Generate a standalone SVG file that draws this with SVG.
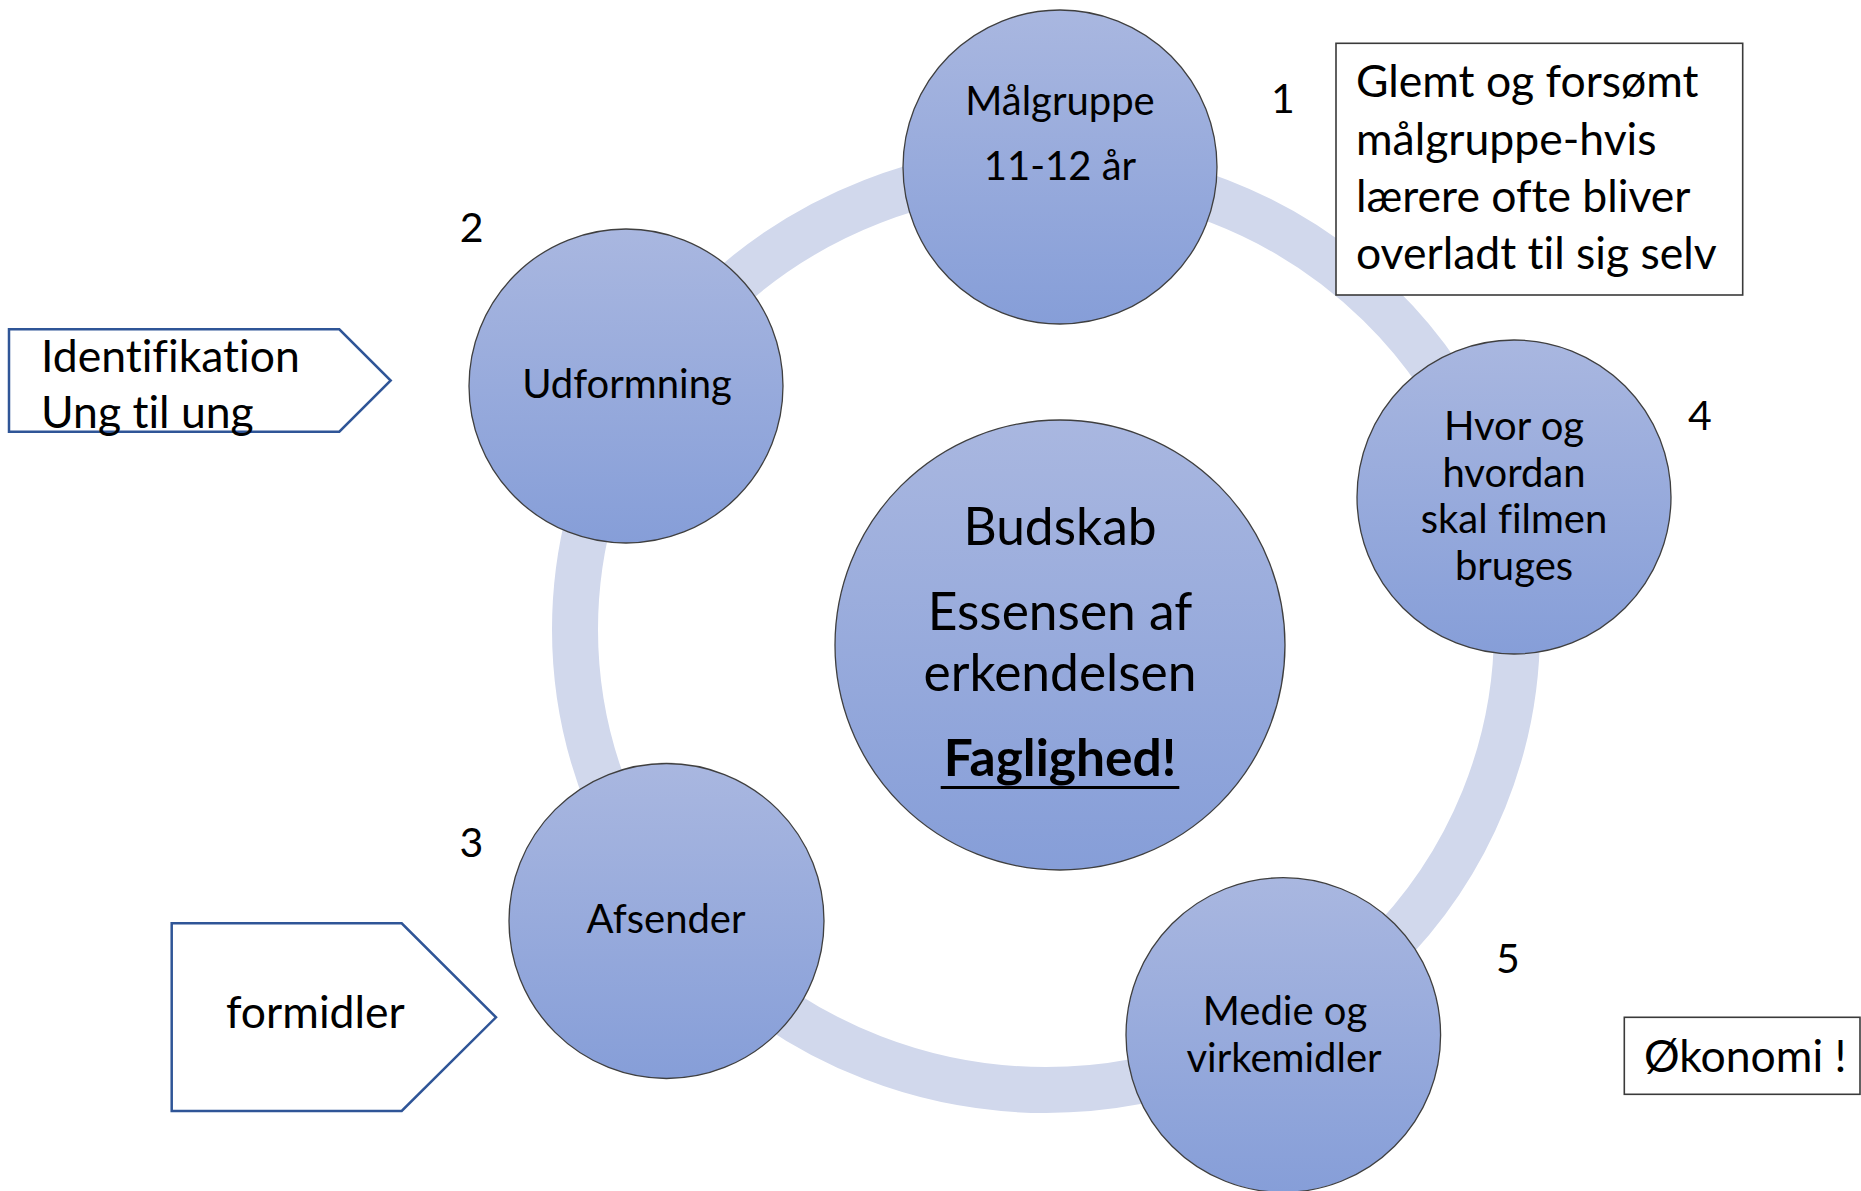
<svg xmlns="http://www.w3.org/2000/svg" width="1861" height="1191" viewBox="0 0 1861 1191">
<defs>
<linearGradient id="nodeGrad" x1="0" y1="0" x2="0" y2="1">
<stop offset="0" stop-color="#A9B7E0"/>
<stop offset="1" stop-color="#869ED8"/>
</linearGradient>
<style>
.node{fill:url(#nodeGrad);stroke:#3F3F3F;stroke-width:1.3}
.t{font-family:Lato,"Liberation Sans",sans-serif;fill:#000;font-variant-ligatures:none;font-feature-settings:"liga" 0,"clig" 0}
.c{text-anchor:middle}
.n{font-size:40px}
.b{font-size:44.5px}
.big{font-size:51.5px}
.num{font-size:41px;text-anchor:middle}
.box{fill:#fff;stroke:#3A3A3A;stroke-width:1.6}
.arrowbox{fill:#fff;stroke:#2F5597;stroke-width:2.5}
.ring{fill:none;stroke:#D1D8EC;stroke-width:46}
</style>
</defs>
<rect width="1861" height="1191" fill="#fff"/>
<g id="connectors">
<ellipse class="ring" cx="1046" cy="629.5" rx="471" ry="460.5"/>
</g>
<g id="node-budskab">
<circle class="node" cx="1060" cy="645" r="225"/>
<text class="t c big" x="1060" y="545">Budskab</text>
<text class="t c big" x="1060" y="630">Essensen af</text>
<text class="t c big" x="1060" y="691">erkendelsen</text>
<text class="t c big" x="1060" y="776" font-weight="bold" font-size="52.5">Faglighed!</text>
<line x1="940.7" y1="787.5" x2="1179.3" y2="787.5" stroke="#000" stroke-width="3.2"/>
</g>
<g id="node-malgruppe">
<circle class="node" cx="1060" cy="167" r="157"/>
<text class="t c n" x="1060" y="115">Målgruppe</text>
<text class="t c n" x="1060" y="180">11-12 år</text>
</g>
<g id="node-udformning">
<circle class="node" cx="626" cy="386" r="157"/>
<text class="t c n" x="627" y="398.3">Udformning</text>
</g>
<g id="node-afsender">
<circle class="node" cx="666.5" cy="921" r="157.5"/>
<text class="t c n" x="666" y="932.7">Afsender</text>
</g>
<g id="node-medie">
<circle class="node" cx="1283.3" cy="1035" r="157.3"/>
<text class="t c n" x="1285" y="1025">Medie og</text>
<text class="t c n" x="1284" y="1071.7">virkemidler</text>
</g>
<g id="node-hvor">
<circle class="node" cx="1514" cy="497" r="157"/>
<text class="t c n" x="1514" y="440">Hvor og</text>
<text class="t c n" x="1514" y="486.7">hvordan</text>
<text class="t c n" x="1514" y="533.3">skal filmen</text>
<text class="t c n" x="1514" y="580">bruges</text>
</g>
<g id="numbers">
<text class="t num" x="1283" y="113">1</text>
<text class="t num" x="471.7" y="241.7">2</text>
<text class="t num" x="471.5" y="857">3</text>
<text class="t num" x="1700" y="430">4</text>
<text class="t num" x="1508" y="973">5</text>
</g>
<g id="note-glemt">
<rect class="box" x="1336" y="43.3" width="406.7" height="251.7"/>
<text class="t b" x="1356" y="97">Glemt og forsømt</text>
<text class="t b" x="1356" y="154.5">målgruppe-hvis</text>
<text class="t b" x="1356" y="212">lærere ofte bliver</text>
<text class="t b" x="1356" y="269">overladt til sig selv</text>
</g>
<g id="note-identifikation">
<polygon class="arrowbox" points="9,329.3 339.3,329.3 390.7,380.5 339.3,431.7 9,431.7"/>
<text class="t b" x="41" y="371.7">Identifikation</text>
<text class="t b" x="41" y="428.3">Ung til ung</text>
</g>
<g id="note-formidler">
<polygon class="arrowbox" points="171.7,923.3 401.7,923.3 496,1017.3 401.7,1111 171.7,1111"/>
<text class="t b" x="226" y="1028.3" font-size="45.5">formidler</text>
</g>
<g id="note-okonomi">
<rect class="box" x="1624.3" y="1017.3" width="235.7" height="77"/>
<text class="t b" x="1644" y="1071.7">Økonomi !</text>
</g>
</svg>
